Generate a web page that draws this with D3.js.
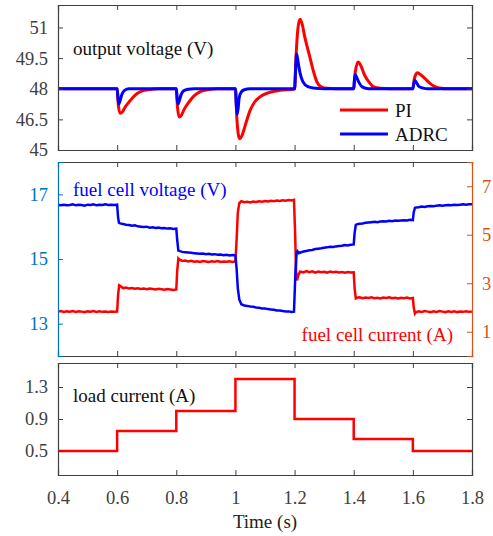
<!DOCTYPE html>
<html><head><meta charset="utf-8">
<script src="https://cdn.jsdelivr.net/npm/d3@7/dist/d3.min.js"></script>
<style>body{margin:0;background:#fff;} svg{display:block;}</style>
</head><body><svg id="c" width="493" height="536" font-family="Liberation Serif"></svg>
<script>
// ---------- data ----------
const xTicks = [0.4,0.6,0.8,1,1.2,1.4,1.6,1.8];
const voltTicks = [45,46.5,48,49.5,51];
const fcvTicks = [13,15,17];
const fciTicks = [1,3,5,7];
const loadTicks = [0.5,0.9,1.3];

const outPI = [[0.4,48],[0.6,48],[0.604,47.2],[0.61,46.8],[0.617,46.85],[0.627,47.1],[0.643,47.4],[0.66,47.68],[0.683,47.88],[0.71,47.96],[0.74,48],
 [0.8,48],[0.804,47.1],[0.81,46.62],[0.817,46.7],[0.827,47.0],[0.843,47.35],[0.86,47.65],[0.883,47.87],[0.91,47.96],[0.94,48],
 [1.0,48],[1.005,46.5],[1.014,45.55],[1.022,45.7],[1.035,46.3],[1.05,46.95],[1.065,47.35],[1.083,47.6],[1.11,47.8],[1.15,47.92],[1.2,47.98],
 [1.205,49.6],[1.211,50.9],[1.218,51.4],[1.225,51.2],[1.235,50.5],[1.25,49.65],[1.263,48.9],[1.275,48.35],[1.29,48.1],[1.31,48.02],[1.34,48],
 [1.4,48],[1.405,48.8],[1.415,49.31],[1.425,49.1],[1.437,48.66],[1.452,48.32],[1.466,48.1],[1.49,48.02],[1.52,48],
 [1.6,48],[1.605,48.5],[1.615,48.78],[1.625,48.7],[1.641,48.5],[1.655,48.3],[1.669,48.15],[1.69,48.04],[1.72,48],[1.8,48]];
const outADRC = [[0.4,48],[0.6,48],[0.603,47.5],[0.606,47.25],[0.61,47.42],[0.616,47.72],[0.625,47.92],[0.64,48],
 [0.8,48],[0.803,47.5],[0.806,47.25],[0.81,47.4],[0.816,47.7],[0.825,47.9],[0.84,47.98],[0.86,48],
 [1.0,48],[1.003,47.2],[1.006,46.75],[1.01,47.15],[1.0125,47.55],[1.02,47.85],[1.03,47.95],[1.05,48],
 [1.2,48],[1.203,48.8],[1.207,49.7],[1.212,49.3],[1.218,48.8],[1.228,48.35],[1.245,48.1],[1.27,48.02],[1.3,48],
 [1.4,48],[1.402,48.4],[1.405,48.7],[1.41,48.55],[1.418,48.3],[1.43,48.08],[1.45,48],
 [1.6,48],[1.603,48.25],[1.607,48.4],[1.612,48.3],[1.62,48.12],[1.635,48.03],[1.65,48],[1.8,48]];

const fcVoltage = [[0.40,16.67],[0.41,16.66],[0.42,16.68],[0.43,16.66],[0.44,16.67],[0.45,16.69],[0.46,16.66],[0.47,16.68],[0.48,16.67],[0.49,16.65],[0.50,16.68],[0.51,16.67],[0.52,16.69],[0.53,16.66],[0.54,16.68],[0.55,16.67],[0.56,16.69],[0.57,16.67],[0.58,16.68],[0.59,16.67],[0.60,16.68],
 [0.603,16.3],[0.606,16.12],[0.61,16.1],[0.62,16.08],[0.63,16.06],[0.64,16.05],[0.65,16.03],[0.66,16.04],[0.67,16.01],[0.68,16.0],[0.69,15.99],[0.70,16.0],[0.71,15.97],[0.72,15.98],[0.73,15.96],[0.74,15.97],[0.75,15.95],[0.76,15.96],[0.77,15.94],[0.78,15.95],[0.79,15.93],[0.80,15.94],
 [0.803,15.6],[0.807,15.26],[0.81,15.25],[0.82,15.22],[0.83,15.21],[0.84,15.2],[0.85,15.19],[0.86,15.18],[0.87,15.17],[0.88,15.16],[0.89,15.17],[0.90,15.15],[0.91,15.16],[0.92,15.14],[0.93,15.15],[0.94,15.13],[0.95,15.14],[0.96,15.12],[0.97,15.13],[0.98,15.11],[0.99,15.12],[1.00,15.11],
 [1.004,14.7],[1.008,14.1],[1.013,13.75],[1.02,13.6],[1.03,13.56],[1.04,13.55],[1.05,13.53],[1.06,13.52],[1.07,13.5],[1.08,13.49],[1.09,13.47],[1.10,13.47],[1.11,13.45],[1.12,13.44],[1.13,13.43],[1.14,13.41],[1.15,13.41],[1.16,13.39],[1.17,13.38],[1.18,13.38],[1.19,13.36],[1.198,13.37],
 [1.203,14.6],[1.207,15.2],[1.21,15.24],[1.215,15.18],[1.22,15.2],[1.23,15.23],[1.24,15.25],[1.25,15.27],[1.26,15.28],[1.27,15.31],[1.28,15.32],[1.29,15.33],[1.30,15.35],[1.31,15.36],[1.32,15.38],[1.33,15.37],[1.34,15.39],[1.35,15.4],[1.36,15.41],[1.37,15.43],[1.38,15.42],[1.39,15.44],[1.40,15.45],
 [1.403,15.8],[1.407,16.05],[1.41,16.07],[1.42,16.09],[1.43,16.1],[1.44,16.12],[1.45,16.13],[1.46,16.14],[1.47,16.15],[1.48,16.14],[1.49,16.16],[1.50,16.17],[1.51,16.16],[1.52,16.18],[1.53,16.17],[1.54,16.19],[1.55,16.18],[1.56,16.19],[1.57,16.2],[1.58,16.19],[1.59,16.21],[1.60,16.2],
 [1.603,16.45],[1.607,16.58],[1.61,16.59],[1.62,16.6],[1.63,16.62],[1.64,16.61],[1.65,16.63],[1.66,16.64],[1.67,16.63],[1.68,16.65],[1.69,16.66],[1.70,16.65],[1.71,16.66],[1.72,16.67],[1.73,16.66],[1.74,16.68],[1.75,16.67],[1.76,16.68],[1.77,16.69],[1.78,16.68],[1.79,16.69],[1.80,16.69]];

const fcCurrent = [[0.40,1.83],[0.41,1.85],[0.42,1.82],[0.43,1.84],[0.44,1.83],[0.45,1.85],[0.46,1.82],[0.47,1.84],[0.48,1.83],[0.49,1.81],[0.50,1.84],[0.51,1.83],[0.52,1.85],[0.53,1.82],[0.54,1.84],[0.55,1.82],[0.56,1.83],[0.57,1.81],[0.58,1.83],[0.59,1.82],[0.60,1.83],
 [0.603,2.5],[0.607,2.92],[0.61,2.9],[0.62,2.8],[0.63,2.82],[0.64,2.78],[0.65,2.8],[0.66,2.77],[0.67,2.79],[0.68,2.76],[0.69,2.78],[0.70,2.75],[0.71,2.78],[0.72,2.76],[0.73,2.74],[0.74,2.77],[0.75,2.75],[0.76,2.73],[0.77,2.76],[0.78,2.74],[0.79,2.72],[0.80,2.74],
 [0.803,3.5],[0.807,4.02],[0.81,3.98],[0.82,3.92],[0.83,3.94],[0.84,3.9],[0.85,3.93],[0.86,3.89],[0.87,3.91],[0.88,3.88],[0.89,3.92],[0.90,3.9],[0.91,3.88],[0.92,3.91],[0.93,3.89],[0.94,3.92],[0.95,3.88],[0.96,3.9],[0.97,3.89],[0.98,3.91],[0.99,3.88],[1.00,3.9],
 [1.004,4.8],[1.008,5.9],[1.013,6.3],[1.02,6.38],[1.03,6.34],[1.04,6.36],[1.05,6.33],[1.06,6.37],[1.07,6.35],[1.08,6.38],[1.09,6.36],[1.10,6.39],[1.11,6.37],[1.12,6.4],[1.13,6.38],[1.14,6.41],[1.15,6.39],[1.16,6.42],[1.17,6.4],[1.18,6.43],[1.19,6.41],[1.198,6.44],
 [1.202,5.0],[1.205,3.5],[1.208,3.12],[1.212,3.3],[1.218,3.48],[1.23,3.45],[1.24,3.5],[1.25,3.46],[1.26,3.49],[1.27,3.44],[1.28,3.48],[1.29,3.45],[1.30,3.47],[1.31,3.44],[1.32,3.48],[1.33,3.45],[1.34,3.47],[1.35,3.44],[1.36,3.46],[1.37,3.43],[1.38,3.46],[1.39,3.44],[1.40,3.45],
 [1.403,2.8],[1.407,2.38],[1.41,2.4],[1.42,2.42],[1.43,2.38],[1.44,2.41],[1.45,2.39],[1.46,2.42],[1.47,2.38],[1.48,2.4],[1.49,2.37],[1.50,2.41],[1.51,2.39],[1.52,2.42],[1.53,2.38],[1.54,2.4],[1.55,2.37],[1.56,2.4],[1.57,2.38],[1.58,2.41],[1.59,2.37],[1.60,2.39],
 [1.603,2.0],[1.607,1.75],[1.61,1.8],[1.62,1.84],[1.63,1.82],[1.64,1.85],[1.65,1.83],[1.66,1.81],[1.67,1.84],[1.68,1.82],[1.69,1.85],[1.70,1.83],[1.71,1.81],[1.72,1.84],[1.73,1.82],[1.74,1.84],[1.75,1.81],[1.76,1.83],[1.77,1.82],[1.78,1.84],[1.79,1.82],[1.80,1.83]];

const loadTimes = [0.4,0.6,0.8,1.0,1.2,1.4,1.6,1.8];
const loadValues = [0.5,0.75,1.0,1.4,0.9,0.65,0.5,0.5];

// ---------- layout ----------
const FONT = "Liberation Serif";
const svg = d3.select("#c");
const L = 58, R = 472;
const P1 = {top:5, bottom:150}, P2 = {top:162, bottom:356}, P3 = {top:363, bottom:475};
const FS = 19, TFS = 18.5, AX = "#404040", TK = 5;
const leftCol = "#0072BD", rightCol = "#D95319";

const x = d3.scaleLinear().domain([0.4,1.8]).range([L,R]);
const y1 = d3.scaleLinear().domain([45,52.1]).range([P1.bottom,P1.top]);
const y2L = d3.scaleLinear().domain([12,18]).range([P2.bottom,P2.top]);
const y2R = d3.scaleLinear().domain([0,8]).range([P2.bottom,P2.top]);
const y3 = d3.scaleLinear().domain([0.2,1.6]).range([P3.bottom,P3.top]);

function label(xp, yp, txt, color, anchor){
  return svg.append("text").attr("x",xp).attr("y",yp).attr("font-family",FONT).attr("font-size",FS)
    .attr("fill",color||"#111").attr("text-anchor",anchor||"start").text(txt);
}

function frame(P){
  const g = svg.append("g");
  g.append("g").attr("transform",`translate(0,${P.bottom})`).call(d3.axisBottom(x).tickValues(xTicks).tickSize(-TK).tickFormat(""));
  g.append("g").attr("transform",`translate(0,${P.top})`).call(d3.axisTop(x).tickValues(xTicks).tickSize(-TK).tickFormat(""));
  g.selectAll(".domain").attr("stroke",AX).attr("stroke-width",1.2);
  g.selectAll(".tick line").attr("stroke",AX);
  return g;
}

function yAxis(scale, ticks, side, color, fmt){
  const ax = side==="left" ? d3.axisLeft(scale) : d3.axisRight(scale);
  const g = svg.append("g").attr("transform",`translate(${side==="left"?L:R},0)`)
    .call(ax.tickValues(ticks).tickSize(-TK).tickPadding(10).tickFormat(fmt||d3.format("")));
  g.attr("font-family",FONT).attr("font-size",TFS);
  g.select(".domain").attr("stroke",color).attr("stroke-width",1.2);
  g.selectAll(".tick line").attr("stroke",color);
  g.selectAll(".tick text").attr("fill",color);
  return g;
}

// panel 1
svg.append("clipPath").attr("id","cp1").append("rect").attr("x",L).attr("y",P1.top).attr("width",R-L).attr("height",P1.bottom-P1.top);
const lineV = d3.line().x(d=>x(d[0])).y(d=>y1(d[1])).curve(d3.curveMonotoneX);
const g1 = svg.append("g").attr("clip-path","url(#cp1)");
g1.append("path").attr("d",lineV(outPI)).attr("fill","none").attr("stroke","#ff0000").attr("stroke-width",3);
g1.append("path").attr("d",lineV(outADRC)).attr("fill","none").attr("stroke","#0000ff").attr("stroke-width",3);
frame(P1);
yAxis(y1, voltTicks, "left", AX, d3.format(""));
yAxis(y1, voltTicks, "right", AX, ()=>"");
label(73, 55, "output voltage (V)");
// legend
svg.append("line").attr("x1",340).attr("x2",388).attr("y1",110).attr("y2",110).attr("stroke","#ff0000").attr("stroke-width",3);
svg.append("line").attr("x1",340).attr("x2",388).attr("y1",134).attr("y2",134).attr("stroke","#0000ff").attr("stroke-width",3);
label(395, 117, "PI");
label(395, 141, "ADRC");

// panel 2
const lineL = d3.line().x(d=>x(d[0])).y(d=>y2L(d[1]));
const lineR = d3.line().x(d=>x(d[0])).y(d=>y2R(d[1]));
svg.append("path").attr("d",lineR(fcCurrent)).attr("fill","none").attr("stroke","#ff0000").attr("stroke-width",2.5);
svg.append("path").attr("d",lineL(fcVoltage)).attr("fill","none").attr("stroke","#0000ff").attr("stroke-width",2.5);
frame(P2);
yAxis(y2L, fcvTicks, "left", leftCol);
yAxis(y2R, fciTicks, "right", rightCol);
label(73, 196, "fuel cell voltage (V)", "#0000ff");
label(453, 341, "fuel cell current (A)", "#ff0000", "end");

// panel 3
const loadData = loadTimes.map((t,i)=>[t,loadValues[i]]);
const lineS = d3.line().x(d=>x(d[0])).y(d=>y3(d[1])).curve(d3.curveStepAfter);
svg.append("path").attr("d",lineS(loadData)).attr("fill","none").attr("stroke","#ff0000").attr("stroke-width",2.5);
frame(P3);
yAxis(y3, loadTicks, "left", AX, d3.format(".1f"));
yAxis(y3, loadTicks, "right", AX, ()=>"");
label(73, 402, "load current (A)");

// x axis labels
const xl = svg.append("g").attr("transform",`translate(0,${P3.bottom})`)
  .call(d3.axisBottom(x).tickValues(xTicks).tickSize(0).tickPadding(16).tickFormat(d3.format("")));
xl.attr("font-family",FONT).attr("font-size",TFS);
xl.select(".domain").remove();
xl.selectAll(".tick text").attr("fill",AX);
label((L+R)/2, 528, "Time (s)", "#222", "middle");
</script></body></html>
